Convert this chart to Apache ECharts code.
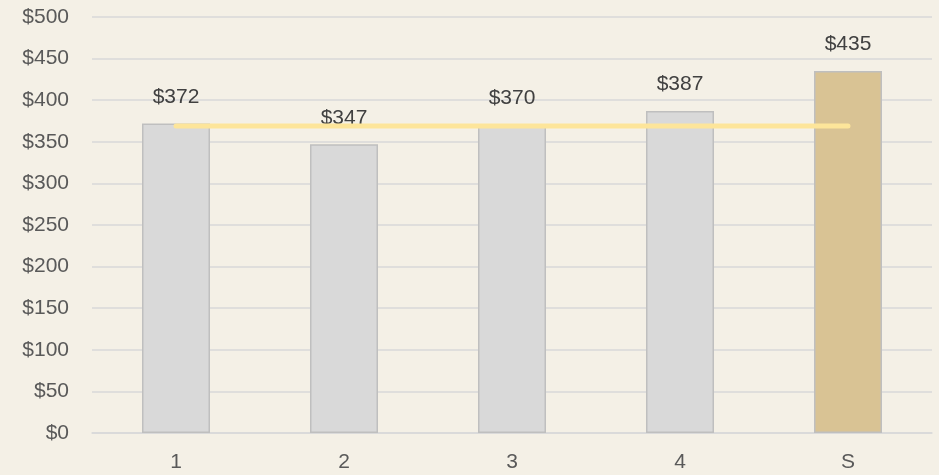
<!DOCTYPE html>
<html><head><meta charset="utf-8">
<script src="https://cdn.jsdelivr.net/npm/echarts@6/dist/echarts.min.js"></script>
<style>html,body{margin:0;padding:0;background:#f4f0e6;}#c{width:939px;height:475px;}</style>
</head><body><div id="c"></div>
<script>
const categories = ['1', '2', '3', '4', 'S'];
const values = [372, 347, 370, 387, 435];
const averageLine = [369, 369, 369, 369, 369];
const yTicks = { min: 0, max: 500, interval: 50 };

const chart = echarts.init(document.getElementById('c'), null, { renderer: 'canvas' });
const font = '"Liberation Sans", Arial, sans-serif';
chart.setOption({
  backgroundColor: '#f4f0e6',
  animation: false,
  grid: { left: 92, right: 7, top: 17, bottom: 42 },
  xAxis: {
    type: 'category', data: categories,
    axisLine: { show: true, lineStyle: { color: '#d9d9d9', width: 1.5 } },
    axisTick: { show: false },
    axisLabel: { color: '#595959', fontSize: 21, fontFamily: font, margin: 19 }
  },
  yAxis: {
    type: 'value', min: yTicks.min, max: yTicks.max, interval: yTicks.interval,
    axisLine: { show: false }, axisTick: { show: false },
    splitLine: { lineStyle: { color: '#d9d9d9', width: 1.5 } },
    axisLabel: { color: '#595959', fontSize: 21, fontFamily: font, margin: 23, formatter: v => '$' + v }
  },
  series: [
    {
      type: 'bar', barWidth: 68,
      data: values.map((v, i) => ({
        value: v,
        itemStyle: i === values.length - 1
          ? { color: '#d9c394', borderColor: '#bfbfbf', borderWidth: 1.5 }
          : { color: '#d9d9d9', borderColor: '#bfbfbf', borderWidth: 1.5 }
      })),
      label: { show: true, position: 'top', distance: 16, color: '#404040', fontSize: 21, fontFamily: font, formatter: p => '$' + p.value }
    },
    {
      type: 'line', data: averageLine, symbol: 'none',
      lineStyle: { color: '#fde59a', width: 5, cap: 'round' }
    }
  ]
});
</script></body></html>
